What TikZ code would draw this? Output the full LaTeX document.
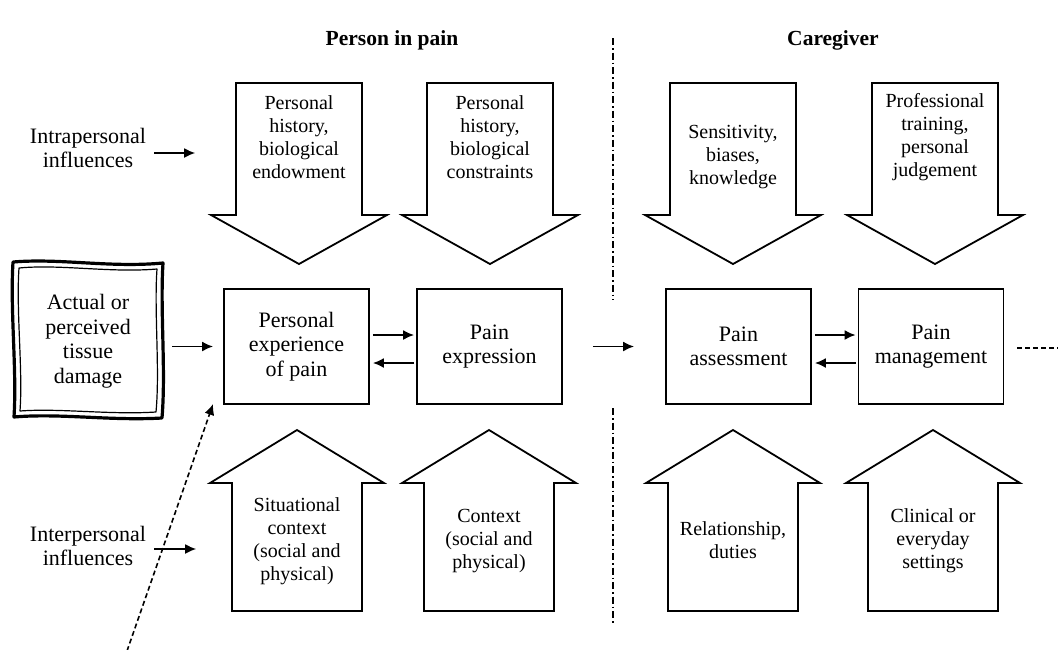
\documentclass[tikz,border=0pt]{standalone}
\usepackage{fontspec}
\setmainfont{Liberation Serif}
\usetikzlibrary{arrows.meta,calc}
\newcommand{\myDownShape}[1]{\draw[shapeline] (#1-63,83) -- (#1+63,83) -- (#1+63,215) -- (#1+88,215) -- (#1,264) -- (#1-88,215) -- (#1-63,215) -- cycle;}
\newcommand{\myUpShape}[1]{\draw[shapeline] (#1-65,611) -- (#1+65,611) -- (#1+65,483) -- (#1+87,483) -- (#1,430) -- (#1-87,483) -- (#1-65,483) -- cycle;}
\begin{document}
\begin{tikzpicture}[x=1pt,y=-1pt,
  shapeline/.style={draw=black, line width=1.8pt, line join=miter},
  arr/.style={-{Latex[length=11pt,width=10pt]}, line width=1.8pt},
  boxtext/.style={align=center, font=\fontsize{22}{24.5}\selectfont, inner sep=0pt},
  arrtext/.style={align=center, font=\fontsize{20}{23}\selectfont, inner sep=0pt},
  stagebox/.style={draw, line width=1.8pt, minimum width=145pt, minimum height=115pt, align=center, font=\fontsize{22}{24.5}\selectfont, inner sep=0pt},
  titletext/.style={font=\fontsize{21.5}{24}\selectfont\bfseries, inner sep=0pt},
  dashdotline/.style={line width=1.7pt, dash pattern=on 7pt off 3pt on 1.5pt off 3pt},
  dashline/.style={line width=1.6pt, dash pattern=on 5pt off 3pt},
]
\useasboundingbox (0,0) rectangle (1058,649);

% titles
\node[titletext] (pp) at (392,40) {Person in pain};
\node[titletext] (cg) at (833,40) {Caregiver};

% separator
\draw[dashdotline] (613,38) -- (613,300);
\draw[dashdotline] (613,408) -- (613,624);

% top arrows
\myDownShape{299}
\myDownShape{490}
\myDownShape{733}
\myDownShape{935}
\node[arrtext] (t1) at (299,137) {Personal\\history,\\biological\\endowment};
\node[arrtext] (t2) at (490,137) {Personal\\history,\\biological\\constraints};
\node[arrtext] (t3) at (733,157) {Sensitivity,\\biases,\\knowledge};
\node[arrtext] (t4) at (935,137) {Professional\\training,\\personal\\judgement};

% bottom arrows
\myUpShape{297}
\myUpShape{489}
\myUpShape{733}
\myUpShape{933}
\node[arrtext] (b1) at (297,541) {Situational\\context\\(social and\\physical)};
\node[arrtext] (b2) at (489,541) {Context\\(social and\\physical)};
\node[arrtext] (b3) at (733,540) {Relationship,\\duties};
\node[arrtext] (b4) at (933,541) {Clinical or\\everyday\\settings};

% stage boxes
\node[stagebox] (exp) at (296.5,346.5) {Personal\\experience\\of pain};
\node[stagebox] (expr) at (489.5,346.5) {Pain\\expression};
\node[stagebox] (assess) at (738.5,346.5) {Pain\\assessment};
\node[stagebox] (manage) at (931,346.5) {Pain\\management};

\draw[arr] ([xshift=3pt,yshift=11.5pt]exp.east) -- ([xshift=-2pt,yshift=11.5pt]expr.west);
\draw[arr] ([xshift=-2pt,yshift=-16.5pt]expr.west) -- ([xshift=3pt,yshift=-16.5pt]exp.east);
\draw[arr] ([xshift=3pt,yshift=11.5pt]assess.east) -- ([xshift=-2pt,yshift=11.5pt]manage.west);
\draw[arr] ([xshift=-2pt,yshift=-16.5pt]manage.west) -- ([xshift=3pt,yshift=-16.5pt]assess.east);
\draw[arr] ([xshift=30pt]expr.east) -- ([xshift=-31pt]assess.west);
\coordinate (rightend) at (1058,348);
\draw[dashline] ([xshift=13pt,yshift=-1.5pt]manage.east) -- (rightend);

% tissue damage box
\node[minimum width=150pt, minimum height=155pt, inner sep=0pt] (tissueframe) at (88,340.5) {};
\draw[line width=3.2pt, line join=round] (13,262) .. controls (60,258) and (110,268) .. (163,263) .. controls (160,310) and (166,370) .. (162,418) .. controls (110,421) and (60,413) .. (14,417) .. controls (17,370) and (10,310) .. (13,262) -- cycle;
\draw[line width=1.2pt, line join=round] (19,268) .. controls (60,264) and (110,273) .. (157,269) .. controls (154,310) and (160,370) .. (156,412) .. controls (110,415) and (60,408) .. (20,411) .. controls (23,370) and (16,310) .. (19,268) -- cycle;
\node[boxtext] (tissue) at (88,341) {Actual or\\perceived\\tissue\\damage};
\draw[arr] ($(tissueframe.east |- exp.west)+(9,0)$) -- ([xshift=-10pt]exp.west);

% side labels
\node[boxtext] (intra) at (88,148) {Intrapersonal\\influences};
\node[boxtext] (inter) at (88,546) {Interpersonal\\influences};
\draw[arr] ([xshift=8pt,yshift=-5pt]intra.east) -- ++(41,0);
\draw[arr] ([xshift=8pt,yshift=-3pt]inter.east) -- ++(42,0);

% dashed incoming arrow
\coordinate (dstart) at (127,651);
\draw[dashline, -{Latex[length=11pt,width=10pt]}] (dstart) -- ([xshift=-10pt,yshift=1pt]exp.south west);
\end{tikzpicture}
\end{document}
